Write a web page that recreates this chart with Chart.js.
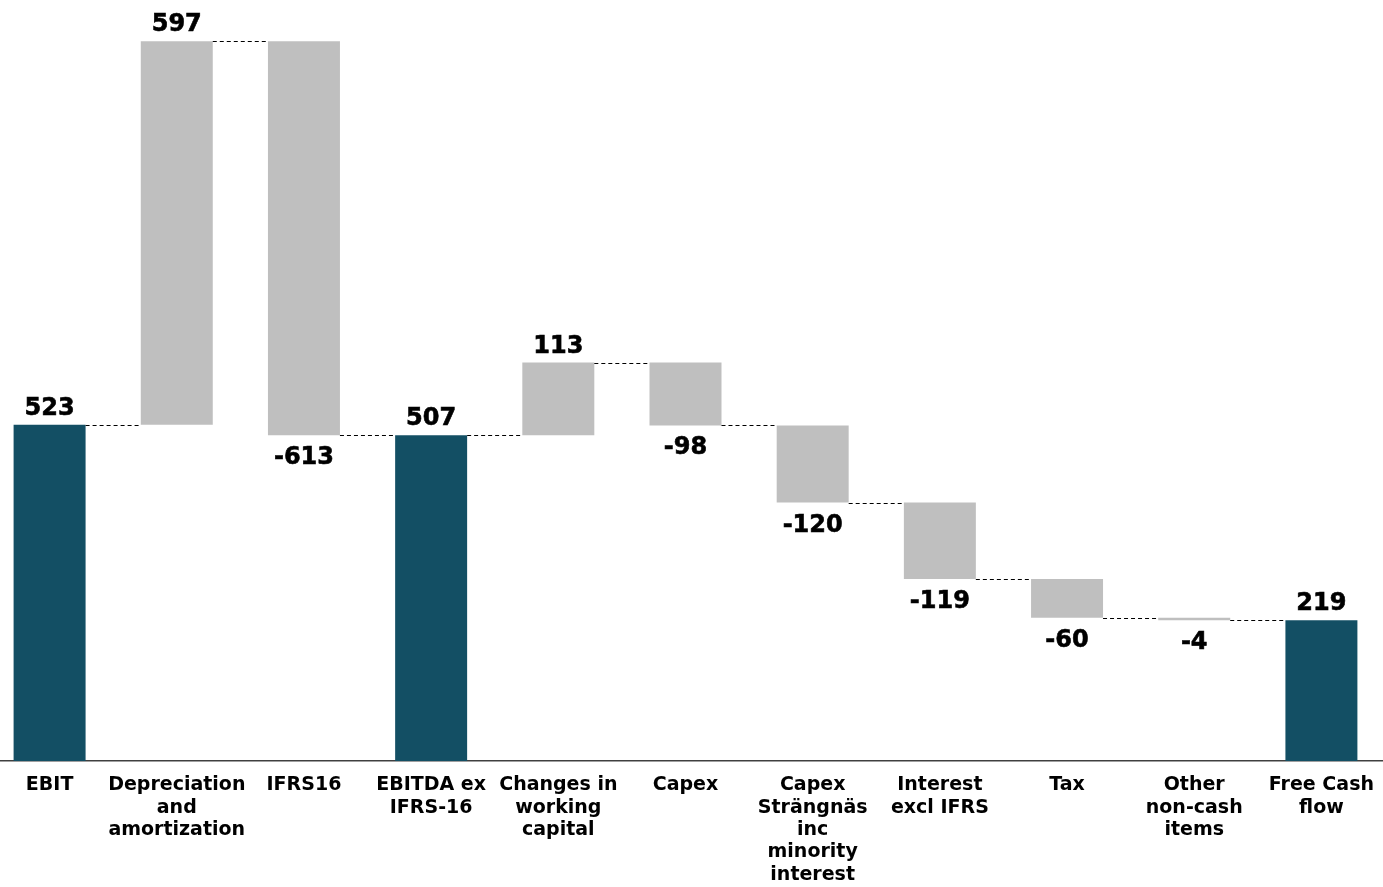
<!DOCTYPE html>
<html>
<head>
<meta charset="utf-8">
<script src="https://cdn.jsdelivr.net/npm/chart.js@4.4.1/dist/chart.umd.min.js"></script>
<style>
    html, body { margin: 0; padding: 0; background: #fff; overflow: hidden; }
    #wrap { position: absolute; left: -14px; top: 0; width: 1399px; height: 887px; }
</style>
</head>
<body>
<div id="wrap"><canvas id="waterfall" width="1399" height="887"></canvas></div>
<script>
// Categories (multi-line tick labels)
const categories = [
    'EBIT',
    ['Depreciation', 'and', 'amortization'],
    'IFRS16',
    ['EBITDA ex', 'IFRS-16'],
    ['Changes in', 'working', 'capital'],
    'Capex',
    ['Capex', 'Strängnäs', 'inc', 'minority', 'interest'],
    ['Interest', 'excl IFRS'],
    'Tax',
    ['Other', 'non-cash', 'items'],
    ['Free Cash', 'flow']
];

// Values: totals are absolute, the rest are changes
const amounts = [523, 597, -613, 507, 113, -98, -120, -119, -60, -4, 219];
const isTotal = [true, false, false, true, false, false, false, false, false, false, true];

const totalColor = '#134f64';
const deltaColor = '#bfbfbf';

// Build floating ranges from the running total
let running = 0;
const ranges = [];
const levels = [];
amounts.forEach((v, i) => {
    if (isTotal[i]) {
        ranges.push([0, v]);
        running = v;
    } else {
        ranges.push([running, running + v]);
        running += v;
    }
    levels.push(running);
});

// Value labels + dashed connectors between bars
const waterfallPlugin = {
    id: 'waterfall',
    afterDatasetsDraw(chart) {
        const ctx = chart.ctx;
        const meta = chart.getDatasetMeta(0);
        const y = chart.scales.y;

        ctx.save();
        // connectors
        ctx.strokeStyle = '#000';
        ctx.lineWidth = 1;
        ctx.setLineDash([4, 3]);
        for (let i = 0; i < meta.data.length - 1; i++) {
            const a = meta.data[i];
            const b = meta.data[i + 1];
            const py = Math.round(y.getPixelForValue(levels[i])) + 0.5;
            ctx.beginPath();
            ctx.moveTo(a.x + a.width / 2, py);
            ctx.lineTo(b.x - b.width / 2, py);
            ctx.stroke();
        }
        ctx.setLineDash([]);

        // labels (slight stroke to get the heavier look)
        ctx.fillStyle = '#000';
        ctx.strokeStyle = '#000';
        ctx.lineWidth = 0.6;
        ctx.font = 'bold 24px "DejaVu Sans"';
        ctx.textAlign = 'center';
        ctx.textBaseline = 'alphabetic';
        meta.data.forEach((bar, i) => {
            const v = amounts[i];
            const top = y.getPixelForValue(Math.max(ranges[i][0], ranges[i][1]));
            const bottom = y.getPixelForValue(Math.min(ranges[i][0], ranges[i][1]));
            const ty = (isTotal[i] || v >= 0) ? top - 10 : bottom + 29;
            ctx.fillText(String(v), bar.x, ty);
            ctx.strokeText(String(v), bar.x, ty);
        });
        ctx.restore();
    }
};

const ctx = document.getElementById('waterfall').getContext('2d');
new Chart(ctx, {
    type: 'bar',
    data: {
        labels: categories,
        datasets: [{
            data: ranges,
            backgroundColor: isTotal.map(t => t ? totalColor : deltaColor),
            borderWidth: 0,
            borderSkipped: false,
            barPercentage: 1,
            categoryPercentage: 72 / 127.2
        }]
    },
    options: {
        responsive: false,
        animation: false,
        layout: { padding: 0 },
        plugins: {
            legend: { display: false },
            tooltip: { enabled: false }
        },
        scales: {
            x: {
                grid: { display: false },
                border: { display: true, color: '#404040', width: 1.5 },
                ticks: {
                    color: '#000',
                    font: { family: 'DejaVu Sans', weight: 'bold', size: 19, lineHeight: 1.18 },
                    padding: 5,
                    autoSkip: false,
                    maxRotation: 0,
                    minRotation: 0
                },
                afterFit: (scale) => { scale.height = 126; }
            },
            y: {
                display: false,
                min: 0,
                max: 1184
            }
        }
    },
    plugins: [waterfallPlugin]
});
</script>
</body>
</html>
